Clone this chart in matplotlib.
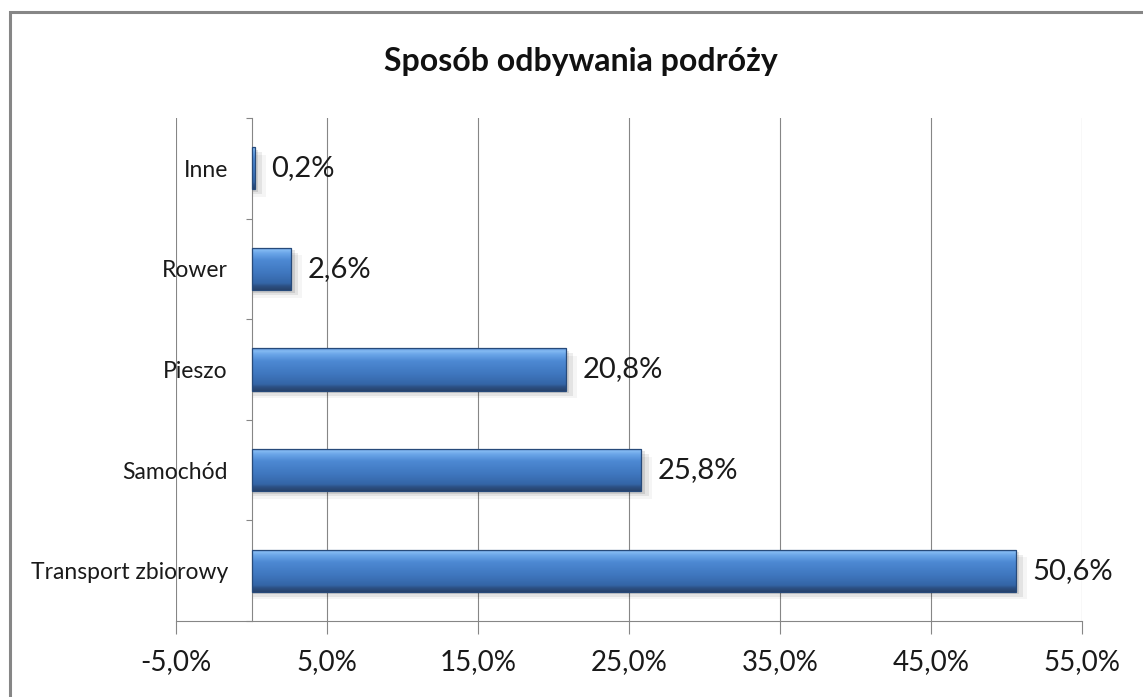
import numpy as np
import matplotlib.pyplot as plt
from matplotlib.patches import Rectangle
from matplotlib.colors import LinearSegmentedColormap
from matplotlib.ticker import FuncFormatter

# Travel mode shares (%)
categories = ["Transport zbiorowy", "Samochód", "Pieszo", "Rower", "Inne"]
shares = [50.6, 25.8, 20.8, 2.6, 0.2]
value_labels = ["50,6%", "25,8%", "20,8%", "2,6%", "0,2%"]
x_ticks = [-5, 5, 15, 25, 35, 45, 55]

GRID = "#868686"
BAR_H = 0.42

plt.rcParams["font.family"] = ["Lato", "DejaVu Sans"]

fig = plt.figure(figsize=(11.43, 6.97), dpi=100)
W, H = 1143, 697
ax = fig.add_axes([176 / W, 1 - 621 / H, (1082 - 176) / W, (621 - 118) / H])

# outer chart frame (runs off the right and bottom edges)
fig.patches.append(Rectangle((10 / W, -0.2), 1.5, 1 - 12 / H + 0.2,
                             transform=fig.transFigure, fill=False,
                             edgecolor=GRID, linewidth=2.2, zorder=0))

fig.text(581 / W, 1 - 62 / H, "Sposób odbywania podróży", ha="center",
         va="center", fontsize=23, fontweight="bold", color="#111111")

ax.set_xlim(-5, 55)
ax.set_ylim(-0.5, len(categories) - 0.5)

# vertical gradient used as bar fill: highlight on top, dark rim at bottom
bar_cmap = LinearSegmentedColormap.from_list("bar", [
    (0.00, "#5C93D8"), (0.06, "#84BAF2"), (0.14, "#6AA5E8"),
    (0.30, "#4D89D3"), (0.60, "#3F77BF"), (0.85, "#3465A6"),
    (0.91, "#2D5185"), (1.00, "#27436C")])
grad = np.linspace(0, 1, 64).reshape(-1, 1)

ypos = np.arange(len(categories))
for y, v, lab in zip(ypos, shares, value_labels):
    # soft drop shadow
    for k, a in enumerate([0.10, 0.07, 0.04]):
        d = 0.025 * (k + 1)
        ax.add_patch(Rectangle((0, y - BAR_H / 2 - d), v + 0.25 * (k + 1), BAR_H,
                               facecolor="black", alpha=a, linewidth=0, zorder=2))
    bar = ax.barh(y, v, height=BAR_H, color="#3F77BF", linewidth=0, zorder=3)[0]
    im = ax.imshow(grad, cmap=bar_cmap, aspect="auto",
                   extent=(0, v, y - BAR_H / 2, y + BAR_H / 2),
                   interpolation="bilinear", zorder=4)
    im.set_clip_path(bar)
    ax.add_patch(Rectangle((0, y - BAR_H / 2), v, BAR_H, fill=False,
                           edgecolor="#274A7A", linewidth=0.9, zorder=5))
    ax.annotate(lab, (v, y), xytext=(17, 0), textcoords="offset pixels",
                ha="left", va="center", fontsize=21, color="#1a1a1a", zorder=6)

# x axis
ax.set_xticks(x_ticks)
ax.xaxis.set_major_formatter(FuncFormatter(lambda x, _: f"{x:.1f}%".replace(".", ",")))
ax.tick_params(axis="x", direction="out", length=9, width=0.8, color=GRID,
               labelsize=20, pad=11, labelcolor="#1a1a1a")
ax.grid(axis="x", color=GRID, linewidth=0.8, zorder=1)
ax.set_axisbelow(True)

# category axis sits at x = 0
for s in ["top", "right"]:
    ax.spines[s].set_visible(False)
ax.spines["bottom"].set_color(GRID)
ax.spines["bottom"].set_linewidth(0.8)
ax.spines["left"].set_position(("data", 0))
ax.spines["left"].set_color(GRID)
ax.spines["left"].set_linewidth(0.8)

ax.set_yticks(np.arange(-0.5, len(categories)), labels=[])
ax.set_yticks(ypos, labels=categories, minor=True)
ax.tick_params(axis="y", which="major", direction="out", length=4.5, width=0.8,
               color=GRID)
ax.tick_params(axis="y", which="minor", length=0, pad=17, labelsize=16.5,
               labelcolor="#1a1a1a")

fig.savefig("out.png", dpi=100)
